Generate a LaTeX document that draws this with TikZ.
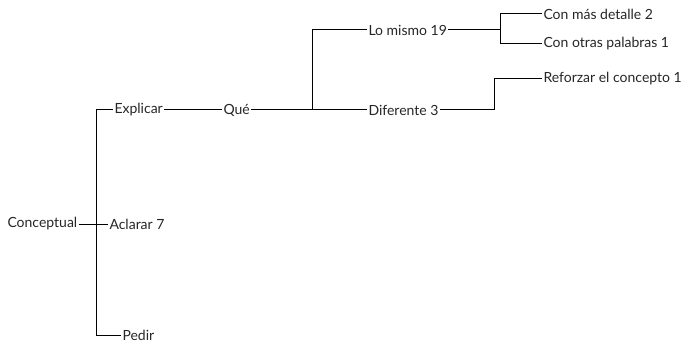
\documentclass[tikz,border=0pt]{standalone}
\usepackage{fontspec}
\setmainfont{Lato}
\usepackage{tikz}

\begin{document}
\begin{tikzpicture}[x=1pt, y=1pt, line width=1pt,
    leaf/.style={anchor=west, inner sep=1pt, text=black!85, font=\fontsize{14}{16}\selectfont}]
  \useasboundingbox (0, 0) rectangle (692, 348);

  \node[leaf] (concept) at (6, 124) {Conceptual};
  \node[leaf] (explicar) at (113, 238) {Explicar};
  \node[leaf] (aclarar) at (108, 124) {Aclarar 7};
  \node[leaf] (pedir) at (121, 13) {Pedir};
  \node[leaf] (que) at (222, 238) {Qué};
  \node[leaf] (mismo) at (367, 318) {Lo mismo 19};
  \node[leaf] (diferente) at (367, 238) {Diferente 3};
  \node[leaf] (detalle) at (542, 334) {Con más detalle 2};
  \node[leaf] (palabras) at (542, 304) {Con otras palabras 1};
  \node[leaf] (reforzar) at (542, 269) {Reforzar el concepto 1};

  \coordinate (j1) at (96, 124);
  \coordinate (j2) at (312, 238);
  \coordinate (j3) at (500, 318);
  \coordinate (j4) at (494, 238);

  \draw (concept.east) -- (j1) |- (explicar.west);
  \draw (j1) |- (aclarar.west);
  \draw (j1) |- (pedir.west);
  \draw (explicar) -- (que);
  \draw (que.east) -- (j2) |- (mismo.west);
  \draw (j2) -- (diferente.west);
  \draw (mismo.east) -- (j3) |- (detalle.west);
  \draw (j3) |- (palabras.west);
  \draw (diferente.east) -- (j4) |- (reforzar.west);
\end{tikzpicture}
\end{document}
